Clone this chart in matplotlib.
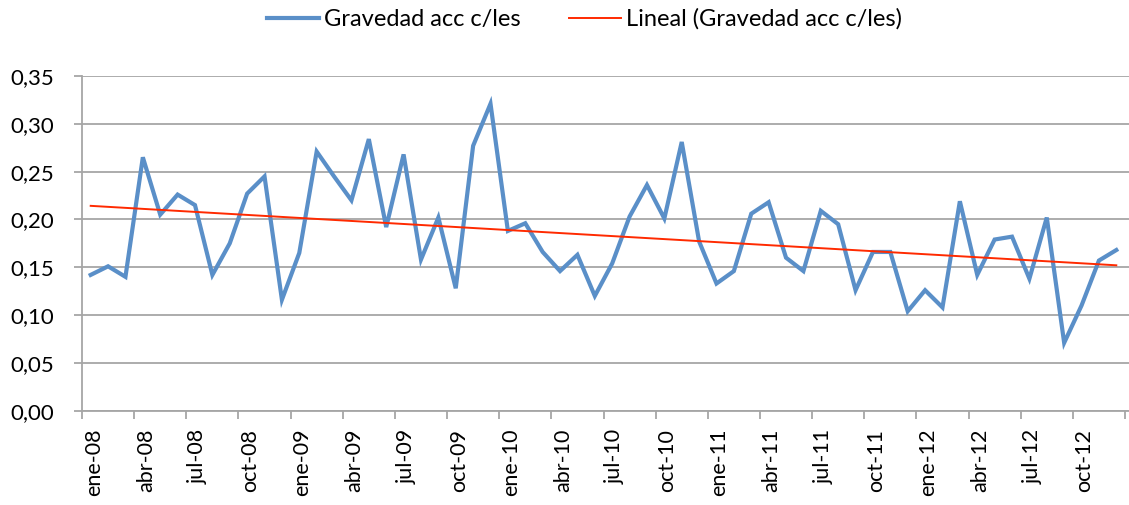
import numpy as np
import matplotlib
matplotlib.use('Agg')
import matplotlib.pyplot as plt
from matplotlib.transforms import ScaledTranslation

plt.rcParams['font.family'] = ['Lato', 'DejaVu Sans']

# monthly values, ene-08 .. dic-12
gravedad = [0.142, 0.151, 0.140, 0.265, 0.205, 0.226, 0.215, 0.142, 0.175, 0.227,
            0.245, 0.116, 0.165, 0.271, 0.245, 0.220, 0.284, 0.192, 0.268, 0.158,
            0.202, 0.128, 0.277, 0.321, 0.188, 0.196, 0.166, 0.146, 0.163, 0.120,
            0.154, 0.203, 0.236, 0.201, 0.281, 0.177, 0.133, 0.146, 0.206, 0.218,
            0.160, 0.146, 0.209, 0.195, 0.126, 0.166, 0.166, 0.104, 0.126, 0.108,
            0.219, 0.142, 0.179, 0.182, 0.138, 0.202, 0.071, 0.110, 0.157, 0.168]
meses = ['ene', 'feb', 'mar', 'abr', 'may', 'jun', 'jul', 'ago', 'sep', 'oct', 'nov', 'dic']
anios = ['08', '09', '10', '11', '12']
etiquetas = [m + '-' + a for a in anios for m in meses]

x = np.arange(len(gravedad))
coef = np.polyfit(x, gravedad, 1)
tendencia = np.polyval(coef, x)

fig = plt.figure(figsize=(11.29, 5.05), dpi=100)
ax = fig.add_axes([82/1129, 94.3/505, 1047/1129, 334.7/505])

ax.plot(x, gravedad, color='#5a8fc8', lw=3.0, solid_joinstyle='miter',
        label='Gravedad acc c/les', zorder=3)
ax.plot(x, tendencia, color='#ff2a00', lw=1.4, label='Lineal (Gravedad acc c/les)', zorder=4)

ax.set_ylim(0, 0.35)
ax.set_xlim(-0.5, 59.73)
yt = np.arange(0, 0.351, 0.05)
ax.set_yticks(yt)
ax.set_yticklabels([('%.2f' % v).replace('.', ',') for v in yt], fontsize=16)
ax.yaxis.grid(True, color='#a6a6a6', lw=1.3)
ax.set_axisbelow(True)

# tick marks at month boundaries, labels centred on the points
ax.set_xticks(np.arange(-0.5, 60, 3))
ax.set_xticklabels([])
ax.set_xticks(x[::3], minor=True)
ax.set_xticklabels(etiquetas[::3], minor=True, rotation=90, fontsize=15.5)
ax.tick_params(axis='x', which='major', length=6, width=1.3, color='#a6a6a6', direction='out')
ax.tick_params(axis='x', which='minor', length=0, pad=13)
ax.tick_params(axis='y', length=6, width=1.3, color='#a6a6a6', pad=14)
desplaza = ScaledTranslation(3/100, 0, fig.dpi_scale_trans)
for t in ax.get_xticklabels(minor=True):
    t.set_transform(t.get_transform() + desplaza)

for s in ['top', 'right']:
    ax.spines[s].set_visible(False)
for s in ['left', 'bottom']:
    ax.spines[s].set_color('#a6a6a6')
    ax.spines[s].set_linewidth(1.3)

fig.legend(loc='center', bbox_to_anchor=(0.5177, 0.962), ncol=2, frameon=False,
           fontsize=17, handlelength=2.2, columnspacing=2.05, handletextpad=0.22)

fig.savefig('out.png', dpi=100)
